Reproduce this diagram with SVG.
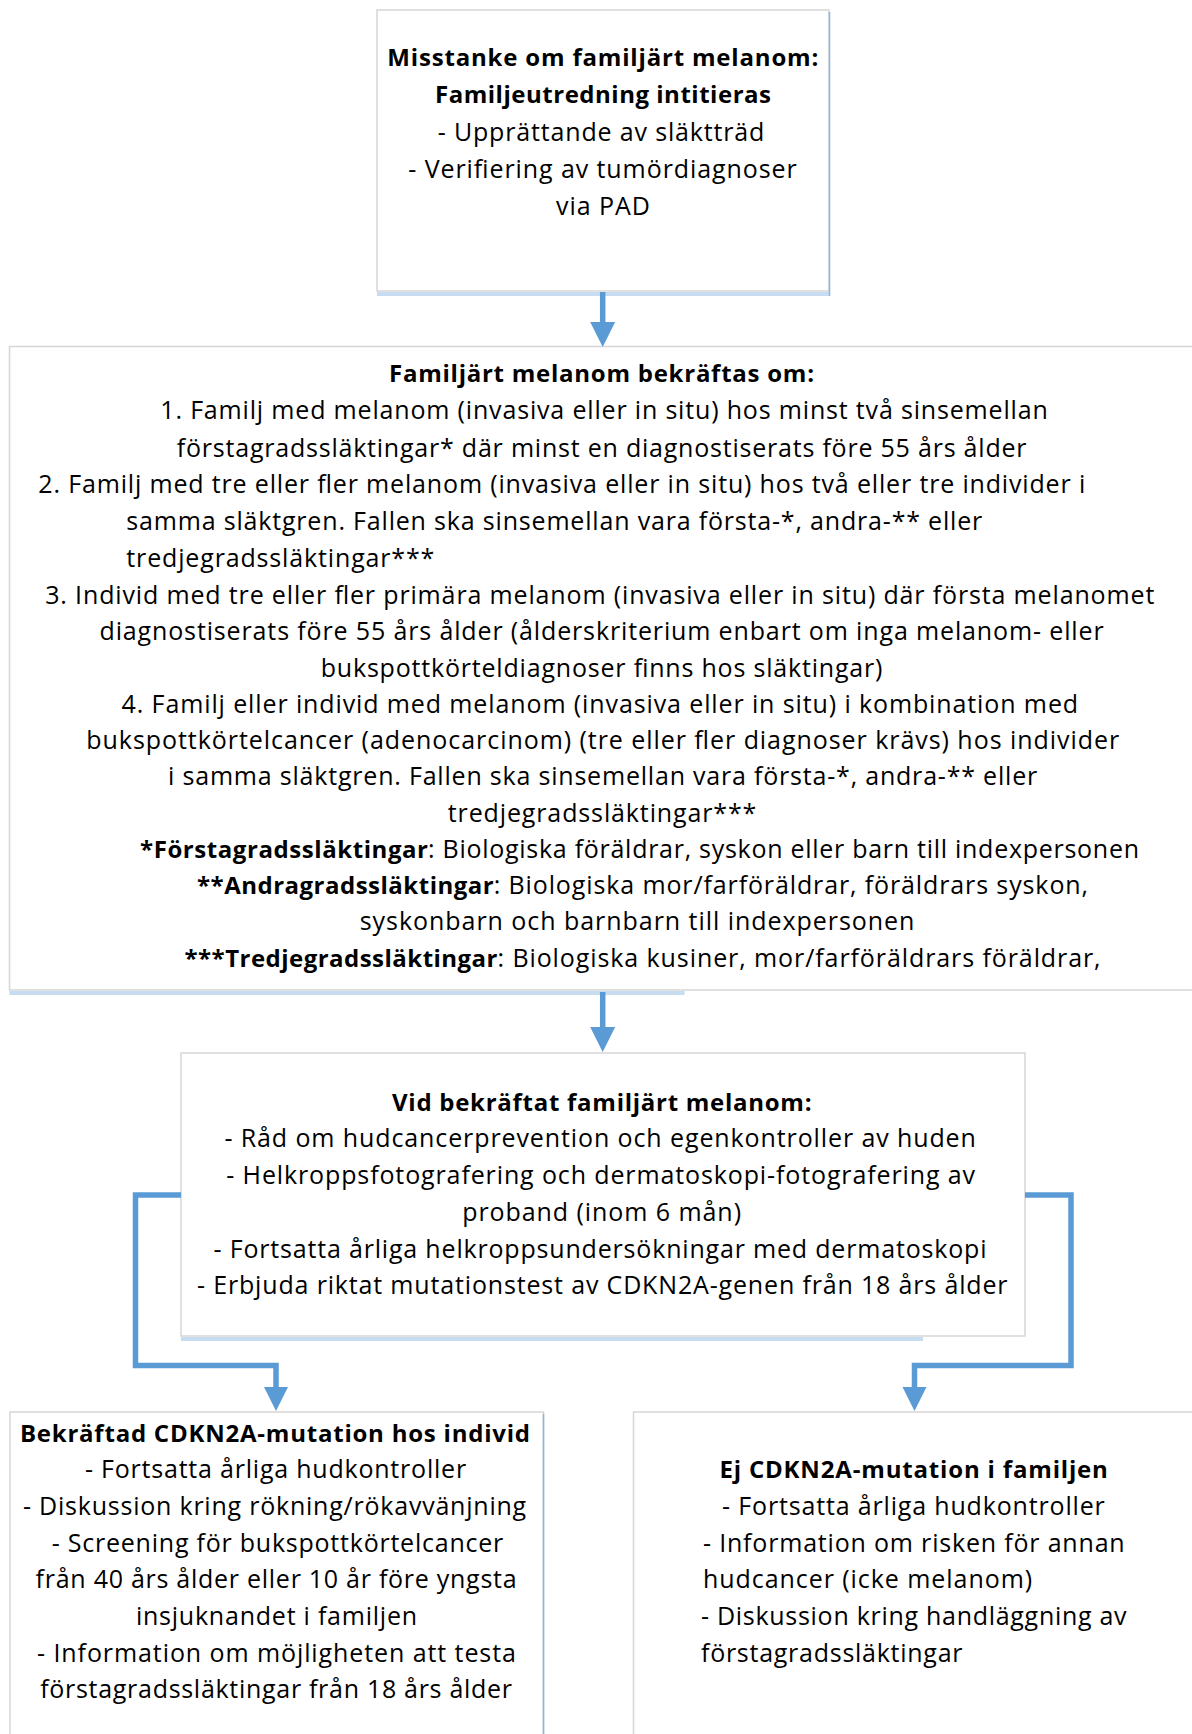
<svg xmlns="http://www.w3.org/2000/svg" width="1192" height="1734" viewBox="0 0 1192 1734">
<style>
.box{fill:#ffffff;stroke:#d6d6d6;stroke-width:1.5}
.edge{stroke:#8db3de;stroke-width:1.5;fill:none}
.band{fill:#c8dcf1}
.t{font-family:"Open Sans",Lato,"Liberation Sans",sans-serif;font-size:25px;fill:#000}
.b{font-family:"Open Sans",Lato,"Liberation Sans",sans-serif;font-size:24px;font-weight:bold;fill:#000}
.con{fill:none;stroke:#5b9bd5;stroke-width:5.5;stroke-linejoin:miter}
.head{fill:#5b9bd5}
</style>
<rect width="1192" height="1734" fill="#ffffff"/>

<g id="node-misstanke">
<rect class="box" x="377" y="10" width="452" height="281"/>
<rect class="band" x="377" y="292" width="453" height="4"/>
<line class="edge" x1="829.5" y1="12" x2="829.5" y2="296"/>
<text class="b" x="387.3" y="65.7" textLength="431">Misstanke om familjärt melanom:</text>
<text class="b" x="435" y="102.7" textLength="336">Familjeutredning intitieras</text>
<text class="t" x="437.7" y="141" textLength="326.6">- Upprättande av släktträd</text>
<text class="t" x="408.3" y="178.3" textLength="388.4">- Verifiering av tumördiagnoser</text>
<text class="t" x="556" y="215" textLength="94">via PAD</text>
</g>

<g id="node-bekraftas">
<rect class="box" x="9.5" y="346.5" width="1200" height="643.5"/>
<rect class="band" x="9.5" y="991" width="675" height="4"/>
<text class="b" x="389" y="382.3" textLength="425">Familjärt melanom bekräftas om:</text>
<text class="t" x="160.3" y="419.3" textLength="887.5">1. Familj med melanom (invasiva eller in situ) hos minst två sinsemellan</text>
<text class="t" x="176.8" y="456.7" textLength="849.7">förstagradssläktingar* där minst en diagnostiserats före 55 års ålder</text>
<text class="t" x="38.3" y="493.3" textLength="1046.9">2. Familj med tre eller fler melanom (invasiva eller in situ) hos två eller tre individer i</text>
<text class="t" x="126.3" y="530" textLength="856">samma släktgren. Fallen ska sinsemellan vara första-*, andra-** eller</text>
<text class="t" x="126.3" y="566.7" textLength="308.1">tredjegradssläktingar***</text>
<text class="t" x="45.2" y="604" textLength="1109.1">3. Individ med tre eller fler primära melanom (invasiva eller in situ) där första melanomet</text>
<text class="t" x="99.5" y="640.2" textLength="1004.1">diagnostiserats före 55 års ålder (ålderskriterium enbart om inga melanom- eller</text>
<text class="t" x="320.7" y="676.5" textLength="561.7">bukspottkörteldiagnoser finns hos släktingar)</text>
<text class="t" x="121.6" y="712.7" textLength="956.5">4. Familj eller individ med melanom (invasiva eller in situ) i kombination med</text>
<text class="t" x="86.3" y="749" textLength="1032.8">bukspottkörtelcancer (adenocarcinom) (tre eller fler diagnoser krävs) hos individer</text>
<text class="t" x="168.1" y="785.2" textLength="869.1">i samma släktgren. Fallen ska sinsemellan vara första-*, andra-** eller</text>
<text class="t" x="447.8" y="821.5" textLength="308.6">tredjegradssläktingar***</text>
<text class="b" x="140" y="857.7" textLength="288">*Förstagradssläktingar</text>
<text class="t" x="428" y="857.7" textLength="711">: Biologiska föräldrar, syskon eller barn till indexpersonen</text>
<text class="b" x="197" y="894" textLength="296.7">**Andragradssläktingar</text>
<text class="t" x="493.7" y="894" textLength="594.3">: Biologiska mor/farföräldrar, föräldrars syskon,</text>
<text class="t" x="359.7" y="930" textLength="554.7">syskonbarn och barnbarn till indexpersonen</text>
<text class="b" x="184.5" y="966.7" textLength="313">***Tredjegradssläktingar</text>
<text class="t" x="497.5" y="966.7" textLength="603.1">: Biologiska kusiner, mor/farföräldrars föräldrar,</text>
</g>

<g id="node-vid-bekraftat">
<rect class="box" x="181" y="1053" width="844" height="283"/>
<rect class="band" x="181" y="1337" width="742" height="4"/>
<text class="b" x="392" y="1110.7" textLength="419.5">Vid bekräftat familjärt melanom:</text>
<text class="t" x="224.4" y="1147.3" textLength="751.5">- Råd om hudcancerprevention och egenkontroller av huden</text>
<text class="t" x="226.3" y="1184" textLength="748.7">- Helkroppsfotografering och dermatoskopi-fotografering av</text>
<text class="t" x="462.2" y="1220.8" textLength="278.8">proband (inom 6 mån)</text>
<text class="t" x="213.5" y="1257.6" textLength="773">- Fortsatta årliga helkroppsundersökningar med dermatoskopi</text>
<text class="t" x="197" y="1294.4" textLength="810.5">- Erbjuda riktat mutationstest av CDKN2A-genen från 18 års ålder</text>
</g>

<g id="node-mutation">
<rect class="box" x="10" y="1412" width="533.5" height="400"/>
<line class="edge" x1="543.5" y1="1414" x2="543.5" y2="1734"/>
<text class="b" x="19.9" y="1441.7" textLength="510.1">Bekräftad CDKN2A-mutation hos individ</text>
<text class="t" x="85" y="1478.3" textLength="381.1">- Fortsatta årliga hudkontroller</text>
<text class="t" x="23" y="1515" textLength="503.2">- Diskussion kring rökning/rökavvänjning</text>
<text class="t" x="51.7" y="1551.7" textLength="451.6">- Screening för bukspottkörtelcancer</text>
<text class="t" x="35.6" y="1588.3" textLength="481">från 40 års ålder eller 10 år före yngsta</text>
<text class="t" x="135.9" y="1625" textLength="281.2">insjuknandet i familjen</text>
<text class="t" x="37.1" y="1661.7" textLength="478.8">- Information om möjligheten att testa</text>
<text class="t" x="40.2" y="1698.3" textLength="471.8">förstagradssläktingar från 18 års ålder</text>
</g>

<g id="node-ej-mutation">
<rect class="box" x="633.5" y="1412" width="600" height="400"/>
<text class="b" x="719.4" y="1478.3" textLength="388.5">Ej CDKN2A-mutation i familjen</text>
<text class="t" x="722.1" y="1515" textLength="382.7">- Fortsatta årliga hudkontroller</text>
<text class="t" x="703" y="1551.7" textLength="421.7">- Information om risken för annan</text>
<text class="t" x="703" y="1588.3" textLength="329.1">hudcancer (icke melanom)</text>
<text class="t" x="701" y="1625" textLength="425.6">- Diskussion kring handläggning av</text>
<text class="t" x="701" y="1661.7" textLength="261.5">förstagradssläktingar</text>
</g>

<g id="connectors">
<line class="con" x1="602.7" y1="292" x2="602.7" y2="324"/>
<polygon class="head" points="590.2,322 615.2,322 602.7,347"/>
<line class="con" x1="602.7" y1="992" x2="602.7" y2="1029"/>
<polygon class="head" points="590.2,1027 615.2,1027 602.7,1052"/>
<path class="con" d="M181,1195 H135.5 V1365.5 H276 V1389"/>
<polygon class="head" points="264,1387 288,1387 276,1411"/>
<path class="con" d="M1025,1195 H1071 V1365.5 H914.5 V1389"/>
<polygon class="head" points="902.5,1387 926.5,1387 914.5,1411"/>
</g>
</svg>
